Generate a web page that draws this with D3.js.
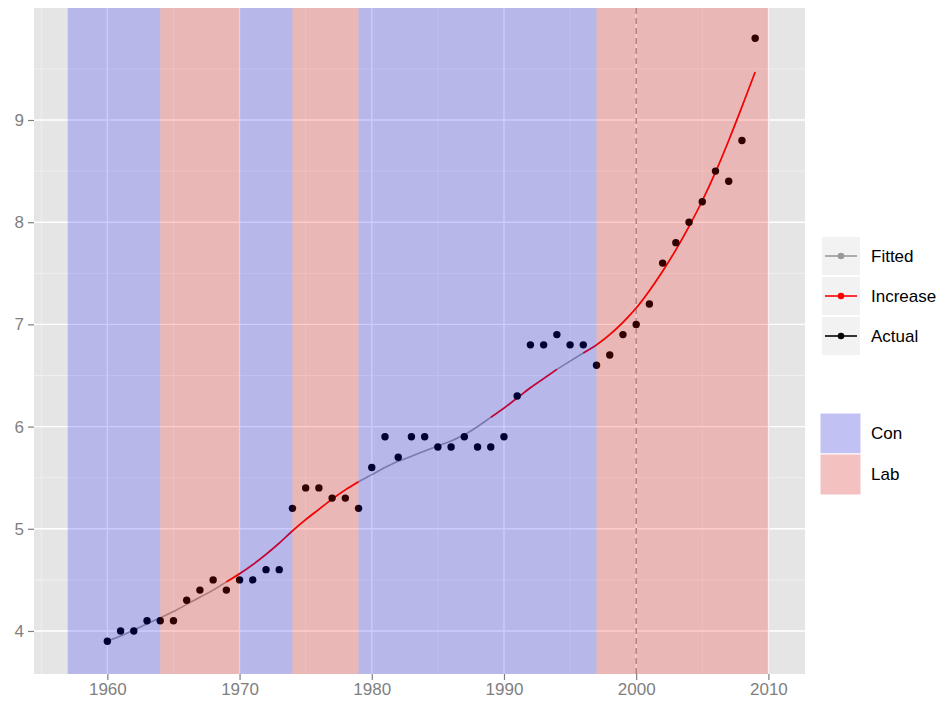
<!DOCTYPE html>
<html>
<head>
<meta charset="utf-8">
<script src="https://cdn.jsdelivr.net/npm/d3@7/dist/d3.min.js"></script>
<style>
  html, body { margin: 0; padding: 0; background: #ffffff; }
  svg { display: block; font-family: "Liberation Sans", Arial, Helvetica, sans-serif; }
</style>
</head>
<body>
<svg id="chart" width="941" height="702"></svg>
<script>
// ---------------- data ----------------
const years = d3.range(1960, 2010); // 1960..2009
const actual = [3.9, 4.0, 4.0, 4.1, 4.1, 4.1, 4.3, 4.4, 4.5, 4.4,
                4.5, 4.5, 4.6, 4.6, 5.2, 5.4, 5.4, 5.3, 5.3, 5.2,
                5.6, 5.9, 5.7, 5.9, 5.9, 5.8, 5.8, 5.9, 5.8, 5.8,
                5.9, 6.3, 6.8, 6.8, 6.9, 6.8, 6.8, 6.6, 6.7, 6.9,
                7.0, 7.2, 7.6, 7.8, 8.0, 8.2, 8.5, 8.4, 8.8, 9.8];
const fitted = [3.90, 3.95, 4.01, 4.07, 4.13, 4.19, 4.26, 4.33, 4.40, 4.48,
                4.56, 4.65, 4.75, 4.86, 4.98, 5.09, 5.19, 5.29, 5.38, 5.46,
                5.53, 5.60, 5.66, 5.71, 5.76, 5.81, 5.86, 5.92, 6.00, 6.09,
                6.18, 6.28, 6.38, 6.47, 6.56, 6.64, 6.72, 6.80, 6.90, 7.02,
                7.16, 7.33, 7.52, 7.73, 7.96, 8.21, 8.49, 8.80, 9.13, 9.47];
// periods where the fitted line is coloured as "Increase"
const increaseStart = [1969, 1989, 1996];
const increaseEnd   = [1979, 1994, 2009];
// governing party periods
const partyStart = [1957, 1964, 1970, 1974, 1979, 1997];
const partyEnd   = [1964, 1970, 1974, 1979, 1997, 2010];
const partyName  = ["Con", "Lab", "Con", "Lab", "Con", "Lab"];
const vlineYear = 2000;
const xTicks = [1960, 1970, 1980, 1990, 2000, 2010];
const xMinor = [1955, 1965, 1975, 1985, 1995, 2005];
const yTicks = [4, 5, 6, 7, 8, 9];
const yMinor = [3.5, 4.5, 5.5, 6.5, 7.5, 8.5, 9.5];
const lineLegend = ["Fitted", "Increase", "Actual"];
const lineLegendColors = ["#999999", "#ff0000", "#000000"];
const partyLegend = ["Con", "Lab"];

// ---------------- layout ----------------
const svg = d3.select("#chart");
const panel = {left: 34, right: 805, top: 8, bottom: 674};
const x = d3.scaleLinear().domain([1954.45, 2012.77]).range([panel.left, panel.right]);
const y = d3.scaleLinear().domain([3.579, 10.096]).range([panel.bottom, panel.top]);
const partyFill = {Con: "rgba(0,0,255,0.2)", Lab: "rgba(255,0,0,0.2)"};
const grey50 = "#7f7f7f";

// panel background
svg.append("rect")
  .attr("x", panel.left).attr("y", panel.top)
  .attr("width", panel.right - panel.left).attr("height", panel.bottom - panel.top)
  .attr("fill", "#e5e5e5");

svg.append("defs").append("clipPath").attr("id", "pclip")
  .append("rect")
  .attr("x", panel.left).attr("y", panel.top)
  .attr("width", panel.right - panel.left).attr("height", panel.bottom - panel.top);

const g = svg.append("g").attr("clip-path", "url(#pclip)");

// minor grid
g.selectAll(".xminor").data(xMinor).enter().append("line")
  .attr("x1", d => x(d)).attr("x2", d => x(d))
  .attr("y1", panel.top).attr("y2", panel.bottom)
  .attr("stroke", "#f2f2f2").attr("stroke-width", 0.8);
g.selectAll(".yminor").data(yMinor).enter().append("line")
  .attr("y1", d => y(d)).attr("y2", d => y(d))
  .attr("x1", panel.left).attr("x2", panel.right)
  .attr("stroke", "#f2f2f2").attr("stroke-width", 0.8);
// major grid
g.selectAll(".xmajor").data(xTicks).enter().append("line")
  .attr("x1", d => x(d)).attr("x2", d => x(d))
  .attr("y1", panel.top).attr("y2", panel.bottom)
  .attr("stroke", "#ffffff").attr("stroke-width", 1.4);
g.selectAll(".ymajor").data(yTicks).enter().append("line")
  .attr("y1", d => y(d)).attr("y2", d => y(d))
  .attr("x1", panel.left).attr("x2", panel.right)
  .attr("stroke", "#ffffff").attr("stroke-width", 1.4);

// dashed vertical line
g.append("line")
  .attr("x1", x(vlineYear)).attr("x2", x(vlineYear))
  .attr("y1", panel.top).attr("y2", panel.bottom)
  .attr("stroke", "#999999").attr("stroke-width", 1.4)
  .attr("stroke-dasharray", "6,4");

// fitted line
const fitData = years.map((yr, i) => ({year: yr, v: fitted[i]}));
const lineGen = d3.line().x(d => x(d.year)).y(d => y(d.v)).curve(d3.curveCatmullRom.alpha(0.5));
g.append("path").datum(fitData)
  .attr("d", lineGen)
  .attr("fill", "none").attr("stroke", "#999999").attr("stroke-width", 1.6);
increaseStart.forEach((s, k) => {
  const seg = fitData.filter(d => d.year >= s && d.year <= increaseEnd[k]);
  g.append("path").datum(seg)
    .attr("d", lineGen)
    .attr("fill", "none").attr("stroke", "#ff0000").attr("stroke-width", 1.6);
});

// actual points
g.selectAll(".pt").data(years.map((yr, i) => ({year: yr, v: actual[i]}))).enter()
  .append("circle")
  .attr("cx", d => x(d.year)).attr("cy", d => y(d.v))
  .attr("r", 3.7).attr("fill", "#000000");

// party rectangles (on top, translucent)
g.selectAll(".party").data(partyName.map((p, i) => ({p, s: partyStart[i], e: partyEnd[i]}))).enter()
  .append("rect")
  .attr("x", d => x(d.s)).attr("width", d => x(d.e) - x(d.s))
  .attr("y", panel.top).attr("height", panel.bottom - panel.top)
  .attr("fill", d => partyFill[d.p]);

// axes
const xAxis = svg.append("g").attr("transform", `translate(0,${panel.bottom})`)
  .call(d3.axisBottom(x).tickValues(xTicks).tickSize(6).tickPadding(3).tickFormat(d3.format("d")));
const yAxis = svg.append("g").attr("transform", `translate(${panel.left},0)`)
  .call(d3.axisLeft(y).tickValues(yTicks).tickSize(6).tickPadding(4).tickFormat(d3.format("d")));
[xAxis, yAxis].forEach(a => {
  a.select(".domain").remove();
  a.selectAll(".tick line").attr("stroke", grey50).attr("stroke-width", 1.2);
  a.selectAll(".tick text").attr("fill", grey50).attr("font-size", "17px")
    .attr("font-family", "Liberation Sans, Arial, sans-serif");
});

// legend 1: lines
const leg1 = svg.append("g");
lineLegend.forEach((lab, i) => {
  const top = 237 + i * 40;
  leg1.append("rect").attr("x", 822).attr("y", top).attr("width", 38).attr("height", 38)
    .attr("fill", "#f2f2f2");
  leg1.append("line").attr("x1", 825).attr("x2", 857).attr("y1", top + 19).attr("y2", top + 19)
    .attr("stroke", lineLegendColors[i]).attr("stroke-width", 1.6);
  leg1.append("circle").attr("cx", 841).attr("cy", top + 19).attr("r", 3.3)
    .attr("fill", lineLegendColors[i]);
  leg1.append("text").attr("x", 871).attr("y", top + 19).attr("dy", "0.35em")
    .attr("font-size", "17px").attr("fill", "#000").text(lab);
});

// legend 2: party
const leg2 = svg.append("g");
partyLegend.forEach((lab, i) => {
  const top = 413 + i * 41;
  leg2.append("rect").attr("x", 820).attr("y", top).attr("width", 41).attr("height", 41)
    .attr("fill", "#f2f2f2");
  leg2.append("rect").attr("x", 820).attr("y", top).attr("width", 41).attr("height", 41)
    .attr("fill", partyFill[lab]).attr("stroke", "#ffffff").attr("stroke-width", 1);
  leg2.append("text").attr("x", 871).attr("y", top + 20.5).attr("dy", "0.35em")
    .attr("font-size", "17px").attr("fill", "#000").text(lab);
});
</script>
</body>
</html>
